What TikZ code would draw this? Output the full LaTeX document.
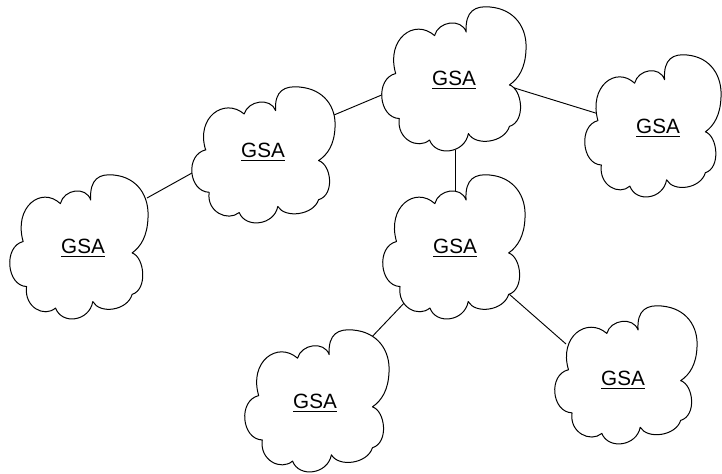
\documentclass[tikz,border=0pt]{standalone}
\usepackage{fontspec}
\setmainfont{Liberation Sans}
\tikzset{
  cloudline/.style={draw=black, line width=0.75pt, fill=white, line join=round},
  link/.style={draw=black, line width=0.7pt},
  gsa/.style={font=\fontsize{15.5}{18}\selectfont, inner sep=0pt},
}
\newcommand{\gsacloud}[4]{%
  \begin{scope}[shift={(#1,#2)}, xscale=#3, yscale=#4]
    \path[cloudline] (-0.81,-0.07)
      .. controls (-0.95,-0.55) and (-0.55,-0.85) .. (-0.27,-0.60)
      .. controls (-0.22,-0.80) and (0.10,-0.85) .. (0.17,-0.65)
      .. controls (0.15,-0.95) and (0.30,-1.02) .. (0.50,-1.00)
      .. controls (0.85,-0.97) and (1.02,-0.70) .. (1.00,-0.40)
      .. controls (0.99,-0.15) and (0.90,0.00) .. (0.77,0.09)
      .. controls (0.95,0.15) and (1.00,0.60) .. (0.77,0.67)
      .. controls (0.70,0.90) and (0.30,0.95) .. (0.20,0.77)
      .. controls (0.15,1.05) and (-0.25,1.10) .. (-0.34,0.86)
      .. controls (-0.50,1.00) and (-0.80,0.85) .. (-0.76,0.56)
      .. controls (-1.05,0.55) and (-1.10,0.00) .. cycle;
  \end{scope}}
\begin{document}
\begin{tikzpicture}[x=0.75pt, y=-0.75pt]
\useasboundingbox (0,0) rectangle (722,474);
% connector end points
\coordinate (mlL) at (147,198);
\coordinate (lML) at (192,173);
\coordinate (mlT) at (334,115);
\coordinate (tML) at (384,94);
\coordinate (tR) at (508,86);
\coordinate (rT) at (602,115);
\coordinate (tC) at (455,150);
\coordinate (cT) at (455,193);
\coordinate (cBL) at (407,300);
\coordinate (blC) at (368,341);
\coordinate (cBR) at (509,294);
\coordinate (brC) at (566,344);
% connectors
\draw[link] (mlL) -- (lML);
\draw[link] (mlT) -- (tML);
\draw[link] (tR) -- (rT);
\draw[link] (tC) -- (cT);
\draw[link] (cBL) -- (blC);
\draw[link] (cBR) -- (brC);
% clouds
\gsacloud{454}{78.5}{72}{71.5}
\gsacloud{653}{125.5}{68}{70.5}
\gsacloud{263.5}{154.5}{71.5}{67.5}
\gsacloud{79}{246.5}{69}{71.5}
\gsacloud{454}{246.5}{71}{71.5}
\gsacloud{317}{400.5}{72}{70.5}
\gsacloud{626}{374.5}{71}{68.5}
% labels
\node[gsa] (top) at (454,80) {\underline{GSA}};
\node[gsa] (right) at (658,128) {\underline{GSA}};
\node[gsa] (midleft) at (263,152) {\underline{GSA}};
\node[gsa] (left) at (83,248) {\underline{GSA}};
\node[gsa] (center) at (455,248) {\underline{GSA}};
\node[gsa] (botleft) at (315,403) {\underline{GSA}};
\node[gsa] (botright) at (623,380) {\underline{GSA}};
\end{tikzpicture}
\end{document}
